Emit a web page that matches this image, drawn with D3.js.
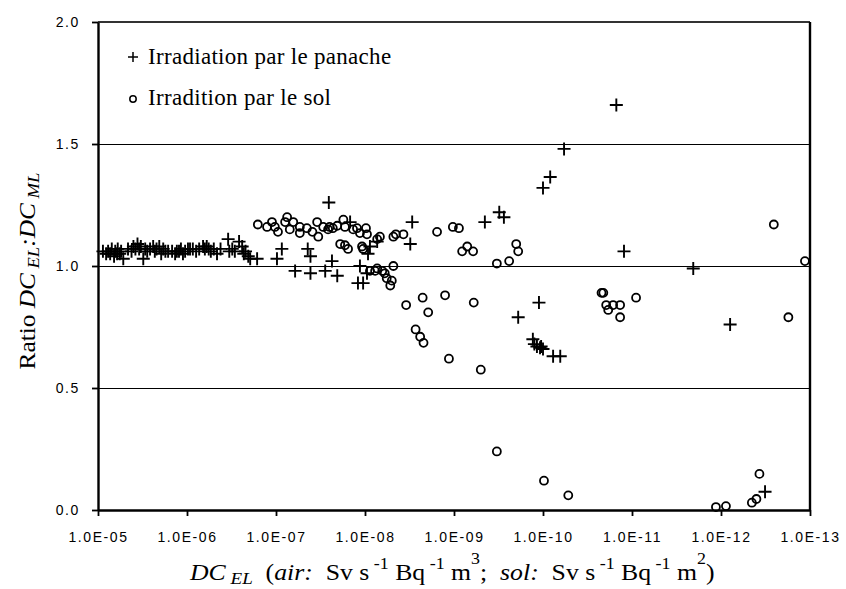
<!DOCTYPE html>
<html>
<head>
<meta charset="utf-8">
<script src="https://cdn.jsdelivr.net/npm/d3@7"></script>
<style>
    body { margin: 0; background: #fff; }
    .axis .tick text { font-family: "Liberation Sans", Arial, sans-serif; font-size: 14px; letter-spacing: 1.6px; fill: #000; }
    .title { font-family: "Liberation Serif", "Times New Roman", serif; font-size: 23px; white-space: pre; fill: #000; }
</style>
</head>
<body>
<script>
// Irradiation par le panache (crosses)
var plumeDC = [
    8.8e-6, 8.1e-6, 7.7e-6, 7.3e-6, 7.0e-6, 6.6e-6, 6.4e-6, 6.1e-6, 6.0e-6, 5.7e-6, 5.5e-6, 5.2e-6,
    4.6e-6, 4.2e-6, 4.0e-6, 3.8e-6, 3.6e-6, 3.45e-6, 3.3e-6, 3.1e-6, 2.95e-6, 2.8e-6, 2.6e-6, 2.4e-6,
    2.3e-6, 2.2e-6, 2.05e-6, 1.95e-6, 1.85e-6, 1.75e-6, 1.63e-6, 1.47e-6, 1.36e-6, 1.3e-6, 1.23e-6, 1.17e-6,
    1.11e-6, 1.05e-6, 9.75e-7, 9.25e-7, 8.6e-7, 7.9e-7, 7.3e-7, 6.6e-7, 6.3e-7, 6.0e-7, 5.7e-7, 5.4e-7,
    5.0e-7, 4.6e-7, 4.2e-7, 3.45e-7, 3.35e-7, 3.1e-7, 2.9e-7, 2.6e-7, 2.4e-7, 2.3e-7, 2.2e-7, 2.05e-7,
    1.95e-7, 1.63e-7,
    9.75e-8, 8.6e-8, 6.1e-8, 4.4e-8, 4.1e-8, 4.1e-8, 2.8e-8, 2.55e-8, 2.35e-8, 2.05e-8, 1.47e-8, 1.2e-8,
    1.14e-8, 1.05e-8, 9.5e-9, 9.25e-9, 8.8e-9, 7.3e-9, 2.95e-9, 3.1e-9,
    4.5e-10, 3.1e-10, 2.75e-10, 1.9e-10, 1.11e-10, 1.3e-10, 1.17e-10, 1.08e-10, 1.0e-10, 1.0e-10, 8.3e-11,
    7.7e-11, 6.4e-11, 5.8e-11, 1.5e-11, 1.23e-11, 2.05e-12, 7.9e-13, 3.2e-13, 1.25e-10, 1.05e-10
];
var plumeRatio = [
    1.06, 1.05, 1.06, 1.05, 1.07, 1.04, 1.06, 1.05, 1.07, 1.05, 1.06, 1.03,
    1.07, 1.06, 1.08, 1.07, 1.09, 1.07, 1.08, 1.03, 1.07, 1.06, 1.07, 1.08,
    1.06, 1.07, 1.08, 1.05, 1.07, 1.06, 1.06, 1.06, 1.05, 1.06, 1.06, 1.07,
    1.05, 1.06, 1.07, 1.07, 1.07, 1.06, 1.07, 1.08, 1.07, 1.08, 1.07, 1.06,
    1.07, 1.05, 1.07, 1.11, 1.06, 1.07, 1.06, 1.10, 1.08, 1.05, 1.06, 1.04,
    1.03, 1.03,
    1.03, 1.07, 0.98, 1.07, 1.04, 0.97, 0.98, 1.26, 1.02, 0.96, 1.18, 0.93,
    1.00, 0.93, 0.97, 1.05, 1.08, 1.10, 1.18, 1.09,
    1.18, 1.22, 1.20, 0.79, 0.85, 0.70, 0.67, 0.665, 0.66, 1.32, 1.365,
    0.63, 0.63, 1.48, 1.66, 1.06, 0.99, 0.76, 0.075, 0.68, 0.67
];

// Irradition par le sol (circles)
var soilDC = [
    1.6e-7, 1.26e-7, 1.11e-7, 1.03e-7, 9.5e-8, 7.9e-8, 7.5e-8, 7.0e-8, 6.4e-8, 5.4e-8, 5.4e-8, 4.5e-8,
    3.9e-8, 3.45e-8, 3.35e-8, 2.95e-8, 2.6e-8, 2.5e-8, 2.3e-8, 2.05e-8, 1.75e-8, 1.68e-8, 1.9e-8, 1.68e-8,
    1.55e-8, 1.36e-8, 1.23e-8, 1.14e-8, 1.08e-8, 1.05e-8, 9.75e-9, 9.5e-9, 7.3e-9, 6.8e-9, 4.8e-9, 4.5e-9,
    3.7e-9, 1.55e-9, 1.03e-9, 8.8e-10, 8.1e-10, 7.1e-10, 6.1e-10, 3.3e-10, 2.4e-10, 2.0e-10, 1.9e-10,
    8.8e-9, 7.7e-9, 7.3e-9, 6.4e-9, 6.0e-9, 5.7e-9, 5.2e-9, 5.0e-9, 4.8e-9,
    3.45e-9, 2.25e-9, 1.95e-9, 1.26e-9, 2.7e-9, 2.4e-9, 2.2e-9, 1.14e-9, 6.0e-10, 5.0e-10, 3.3e-10,
    9.75e-11, 5.2e-11,
    2.2e-11, 2.1e-11, 1.95e-11, 1.85e-11, 1.63e-11, 1.36e-11, 1.36e-11, 9.0e-12, 1.14e-12, 8.8e-13,
    4.5e-13, 4.0e-13, 3.7e-13, 2.55e-13, 1.75e-13, 1.14e-13
];
var soilRatio = [
    1.17, 1.16, 1.18, 1.16, 1.14, 1.18, 1.20, 1.15, 1.18, 1.16, 1.135, 1.155,
    1.14, 1.18, 1.12, 1.16, 1.15, 1.16, 1.155, 1.165, 1.19, 1.16, 1.09, 1.085,
    1.07, 1.15, 1.155, 1.135, 1.08, 1.07, 1.155, 1.13, 1.11, 1.12, 1.12, 1.13,
    1.13, 1.14, 1.16, 1.155, 1.06, 1.08, 1.06, 1.01, 1.02, 1.09, 1.06,
    0.98, 0.98, 0.99, 0.98, 0.97, 0.95, 0.92, 0.94, 1.00,
    0.84, 0.87, 0.81, 0.88, 0.74, 0.71, 0.685, 0.62, 0.85, 0.575, 0.24,
    0.12, 0.06,
    0.89, 0.89, 0.84, 0.82, 0.84, 0.84, 0.79, 0.87, 0.012, 0.016,
    0.03, 0.045, 0.148, 1.17, 0.79, 1.02
];

var xTickValues = [1e-5, 1e-6, 1e-7, 1e-8, 1e-9, 1e-10, 1e-11, 1e-12, 1e-13];
var xTickLabels = ["1.0E-05", "1.0E-06", "1.0E-07", "1.0E-08", "1.0E-09", "1.0E-10", "1.0E-11", "1.0E-12", "1.0E-13"];
var yTickValues = [0, 0.5, 1.0, 1.5, 2.0];
var legendLabels = ["Irradiation par le panache", "Irradition par le sol"];

let Scatterchart = function() {
    //Width and height
    var w = 846;
    var h = 589;
    var left = 98, right = 810, top = 22, bottom = 510;

    var plume = plumeDC.map(function(d, i) { return { dc: d, ratio: plumeRatio[i] }; });
    var soil = soilDC.map(function(d, i) { return { dc: d, ratio: soilRatio[i] }; });

    //scales (x runs from big to small)
    var xScale = d3.scaleLog()
                   .domain([1e-5, 1e-13])
                   .range([left, right]);
    var yScale = d3.scaleLinear()
                   .domain([0, 2])
                   .range([bottom, top]);

    var svg = d3.select("body")
                .append("svg")
                .attr("width", w)
                .attr("height", h);

    //horizontal grid lines
    svg.append("g")
        .selectAll("line")
        .data([0.5, 1.0, 1.5])
        .enter()
        .append("line")
        .attr("x1", left)
        .attr("x2", right)
        .attr("y1", function(d) { return yScale(d) + 0.5; })
        .attr("y2", function(d) { return yScale(d) + 0.5; })
        .attr("stroke", "#000")
        .attr("stroke-width", 1)
        .attr("shape-rendering", "crispEdges");

    //top + right frame
    svg.append("line")
        .attr("x1", left).attr("x2", right)
        .attr("y1", yScale(2)).attr("y2", yScale(2))
        .attr("stroke", "#333").attr("stroke-width", 2.2);
    svg.append("line")
        .attr("x1", right).attr("x2", right)
        .attr("y1", yScale(2)).attr("y2", yScale(0))
        .attr("stroke", "#000").attr("stroke-width", 2.4);

    let xAxis = d3.axisBottom(xScale)
            .tickValues(xTickValues)
            .tickFormat(function(d, i) { return xTickLabels[i]; })
            .tickSizeInner(6)
            .tickSizeOuter(0)
            .tickPadding(16);
    let yAxis = d3.axisLeft(yScale)
            .tickValues(yTickValues)
            .tickFormat(d3.format(".1f"))
            .tickSizeInner(6)
            .tickSizeOuter(0)
            .tickPadding(12);

    svg.append("g")
        .attr("class", "axis")
        .attr("transform", `translate(0, ${bottom})`)
        .call(xAxis);
    svg.append("g")
        .attr("class", "axis")
        .attr("transform", `translate(${left}, 0)`)
        .call(yAxis);
    svg.selectAll(".axis .domain").attr("stroke-width", 2.4);
    svg.selectAll(".axis .tick line").attr("stroke-width", 1.8);

    //plume crosses
    svg.append("g")
        .selectAll("path")
        .data(plume)
        .enter()
        .append("path")
        .attr("d", "M-6.5,0H6.5M0,-6.5V6.5")
        .attr("transform", function(d) { return `translate(${xScale(d.dc)},${yScale(d.ratio)})`; })
        .attr("stroke", "#000")
        .attr("stroke-width", 1.9)
        .attr("fill", "none");

    //soil circles
    svg.append("g")
        .selectAll("circle")
        .data(soil)
        .enter()
        .append("circle")
        .attr("cx", function(d) { return xScale(d.dc); })
        .attr("cy", function(d) { return yScale(d.ratio); })
        .attr("r", 4)
        .attr("stroke", "#000")
        .attr("stroke-width", 1.8)
        .attr("fill", "none");

    //legend
    svg.append("path")
        .attr("d", "M-5,0H5M0,-5V5")
        .attr("transform", "translate(133,57)")
        .attr("stroke", "#000").attr("stroke-width", 1.5);
    svg.append("circle")
        .attr("cx", 133).attr("cy", 99).attr("r", 3.2)
        .attr("stroke", "#000").attr("stroke-width", 1.5).attr("fill", "none");
    svg.selectAll(".legend")
        .data(legendLabels)
        .enter()
        .append("text")
        .attr("class", "title")
        .attr("x", 148)
        .attr("y", function(d, i) { return 64 + i * 41; })
        .attr("font-size", 22)
        .attr("letter-spacing", 0.3)
        .text(function(d) { return d; });

    //text with sub/superscripts
    function richText(sel, parts) {
        var cur = 0;
        parts.forEach(function(p) {
            var shift = p.s || 0;
            var t = sel.append("tspan").text(p.t).attr("dy", shift - cur);
            cur = shift;
            if (p.i) t.attr("font-style", "italic");
            if (p.f) t.attr("font-size", p.f);
        });
    }

    var xt = svg.append("text")
        .attr("class", "title")
        .attr("transform", "translate(190,580) scale(1.12,1)");
    richText(xt, [
        { t: "DC", i: 1 }, { t: " EL", i: 1, f: 17, s: 4 }, { t: "  (" }, { t: "air:", i: 1 },
        { t: "  Sv s" }, { t: " -1", f: 16, s: -11 }, { t: " Bq" }, { t: " -1", f: 16, s: -11 },
        { t: " m" }, { t: "3", f: 16, s: -16 }, { t: ";  " }, { t: "sol:", i: 1 },
        { t: "  Sv s" }, { t: " -1", f: 16, s: -11 }, { t: " Bq" }, { t: " -1", f: 16, s: -11 },
        { t: " m" }, { t: "2", f: 16, s: -16 }, { t: ")" }
    ]);

    var yt = svg.append("text")
        .attr("class", "title")
        .attr("text-anchor", "middle")
        .attr("transform", "translate(35,271) rotate(-90) scale(1.1,1)");
    richText(yt, [
        { t: "Ratio " }, { t: "DC", i: 1 }, { t: " EL", i: 1, f: 17, s: 4 }, { t: ":", i: 1 },
        { t: "DC", i: 1 }, { t: " ML", i: 1, f: 17, s: 4 }
    ]);
}

Scatterchart();
</script>
</body>
</html>
